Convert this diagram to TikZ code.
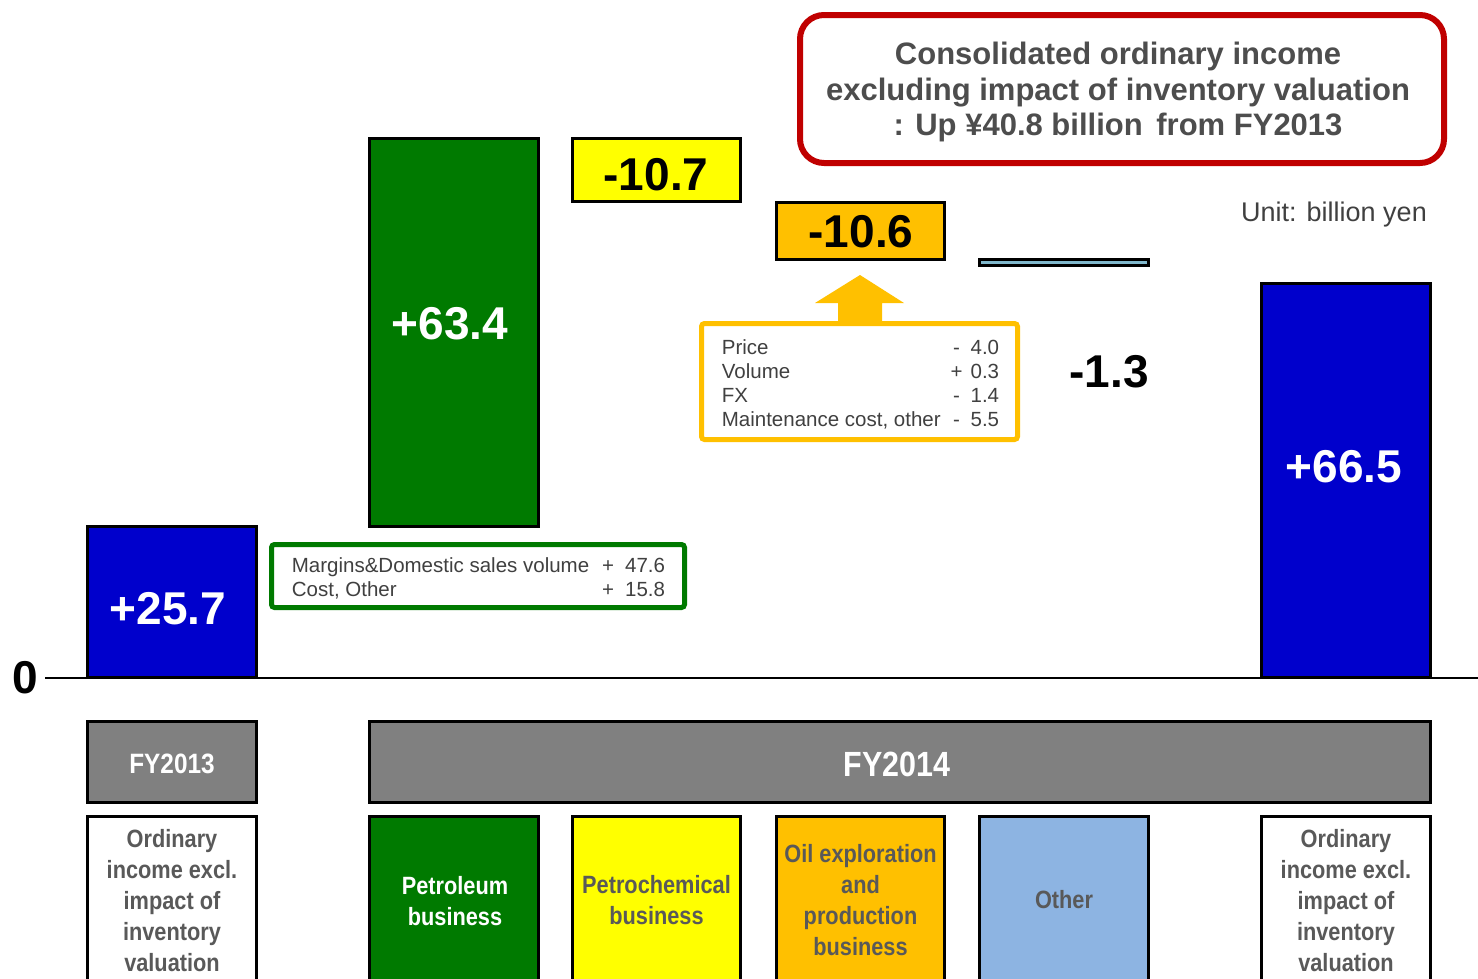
\documentclass[tikz,border=0pt]{standalone}
\usepackage{fontspec}
\setmainfont{Liberation Sans}
\newfontfamily\condfont[FakeStretch=0.87]{Liberation Sans}
\usetikzlibrary{fit}
\definecolor{barblue}{RGB}{0,0,204}
\definecolor{bargreen}{RGB}{0,122,0}
\definecolor{baryellow}{RGB}{255,255,0}
\definecolor{barorange}{RGB}{255,192,0}
\definecolor{barsky}{RGB}{141,180,226}
\definecolor{barteal}{RGB}{128,184,204}
\definecolor{headgray}{RGB}{128,128,128}
\definecolor{framered}{RGB}{192,0,0}
\definecolor{txtgray}{RGB}{89,89,89}
\definecolor{darktxt}{RGB}{64,64,64}
\definecolor{titletxt}{RGB}{77,77,77}

\begin{document}
\begin{tikzpicture}[x=1pt,y=-1pt,
  box/.style={draw=black, line width=3pt, inner sep=0pt, outer sep=0pt},
  bigval/.style={inner sep=0pt, font=\fontsize{46}{50}\selectfont\bfseries},
  headtxt/.style={inner sep=0pt, text=white, font=\condfont\bfseries\fontsize{28}{32}\selectfont},
  cattxt/.style={inner sep=0pt, align=center, text=txtgray, font=\condfont\bfseries\fontsize{25}{31}\selectfont},
  detail/.style={draw, line width=5pt, rounded corners=3pt, fill=white, inner sep=0pt},
  detailtxt/.style={inner sep=0pt, text=darktxt, font=\fontsize{20.5}{24.5}\selectfont}
]
\clip (0,0) rectangle (1478,978);

% zero axis
\coordinate (axisL) at (45,678);
\coordinate (axisR) at (1478,678);
\draw[line width=2pt] (axisL) -- (axisR);
\node[bigval] (zero) at (25,678) {0};

% waterfall bars
\node[box, fill=barblue, fit={(87.5,526.5) (256.5,677)}] (bar13) {};
\node[box, fill=bargreen, fit={(369.5,138.5) (538.5,526)}] (barpet) {};
\node[box, fill=baryellow, fit={(572.5,138.5) (740.5,201.5)}] (barchem) {};
\node[box, fill=barorange, fit={(776.5,202.5) (944.5,259.5)}] (baroil) {};
\node[box, fill=barteal, fit={(979.5,259.5) (1148.5,265.5)}] (barother) {};
\node[box, fill=barblue, fit={(1261.5,283.5) (1430.5,677)}] (bar14) {};

% bar values
\node[bigval, text=white] (val13) at (168,609) {+25.7};
\node[bigval, text=white] (valpet) at (450,324) {+63.4};
\node[bigval] (valchem) at (656,175) {-10.7};
\node[bigval] (valoil) at (861,232) {-10.6};
\node[bigval] (valother) at (1109,372) {-1.3};
\node[bigval, text=white] (val14) at (1344,467) {+66.5};

% breakdown of the petroleum result
\node[detail, draw=bargreen, fit={(271.5,544.5) (684.5,607.5)}] (petframe) {};
\node[detailtxt] (pettext) at (478.5,579.5) {%
  \begin{tabular}{@{}l@{\hskip 13pt}c@{\hskip 11pt}r@{}}
  Margins\&Domestic sales volume & + & 47.6\\
  Cost, Other & + & 15.8
  \end{tabular}};

% breakdown of the exploration result, with its arrow
\fill[barorange] (838,326) -- (838,303) -- (815,303) -- (860,275) -- (904,303) -- (882,303) -- (882,326) -- cycle;
\node[detail, draw=barorange, fit={(701.5,323.5) (1017.5,439.5)}] (oilframe) {};
\node[detailtxt, font=\fontsize{20.5}{24}\selectfont] (oiltext) at (860.5,386) {%
  \begin{tabular}{@{}l@{\hskip 10pt}c@{\hskip 8pt}r@{}}
  Price & - & 4.0\\
  Volume & + & 0.3\\
  FX & - & 1.4\\
  Maintenance cost, other & - & 5.5
  \end{tabular}};

% headline
\node[draw=framered, line width=6pt, rounded corners=24pt, fill=white, inner sep=0pt,
  fit={(800,15) (1444,163)}] (headline) {};
\node[align=center, inner sep=0pt, text=titletxt,
  font=\fontsize{31}{35.5}\selectfont\bfseries] (headtext) at (1118,92) {%
  Consolidated ordinary income\\
  excluding impact of inventory valuation\\
  : Up \textyen40.8 billion\hspace{5pt} from FY2013};

\node[anchor=base east, inner sep=0pt, text=darktxt, font=\fontsize{27}{30}\selectfont] (unit) at (1427,221) {Unit: billion yen};

% fiscal year headers
\node[box, fill=headgray, fit={(87.5,721.5) (256.5,802.5)}] (fy13) {};
\node[box, fill=headgray, fit={(369.5,721.5) (1430.5,802.5)}] (fy14) {};
\node[headtxt] (fy13txt) at (172,764) {FY2013};
\node[headtxt, font=\condfont\bfseries\fontsize{35}{38}\selectfont] (fy14txt) at (897,764) {FY2014};

% category boxes
\node[box, fill=white, fit={(87.5,816.5) (256.5,983.5)}] (cat13) {};
\node[box, fill=bargreen, fit={(369.5,816.5) (538.5,983.5)}] (catpet) {};
\node[box, fill=baryellow, fit={(572.5,816.5) (740.5,983.5)}] (catchem) {};
\node[box, fill=barorange, fit={(776.5,816.5) (944.5,983.5)}] (catoil) {};
\node[box, fill=barsky, fit={(979.5,816.5) (1148.5,983.5)}] (catother) {};
\node[box, fill=white, fit={(1261.5,816.5) (1430.5,983.5)}] (cat14) {};

% category labels
\node[cattxt] (cat13txt) at (172,901) {Ordinary\\income excl.\\impact of\\inventory\\valuation};
\node[cattxt, text=white] (catpettxt) at (455,901) {Petroleum\\business};
\node[cattxt] (catchemtxt) at (656.5,900) {Petrochemical\\business};
\node[cattxt] (catoiltxt) at (860.5,900) {Oil exploration\\and\\production\\business};
\node[cattxt] (catothertxt) at (1064,900) {Other};
\node[cattxt] (cat14txt) at (1346,901) {Ordinary\\income excl.\\impact of\\inventory\\valuation};
\end{tikzpicture}
\end{document}
